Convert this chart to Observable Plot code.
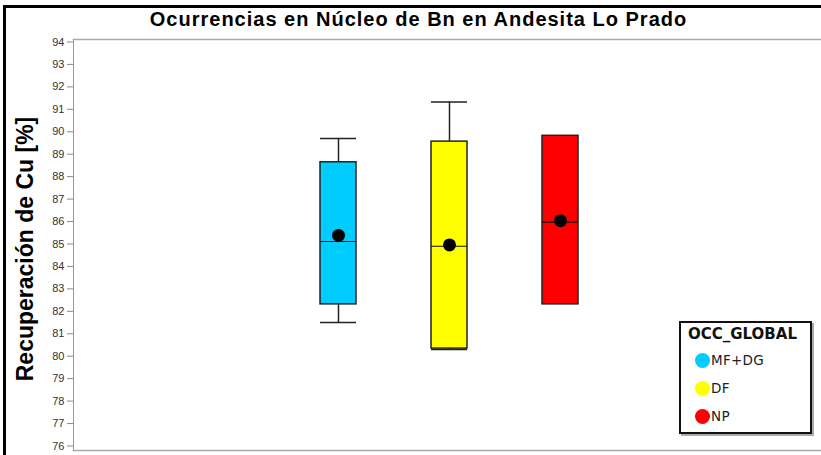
<!DOCTYPE html>
<html><head><meta charset="utf-8">
<script src="https://cdn.jsdelivr.net/npm/d3@7"></script>
<script src="https://cdn.jsdelivr.net/npm/@observablehq/plot@0.6"></script>
<style>
html,body{margin:0;background:#fff;overflow:hidden;}
#wrap{position:relative;width:821px;height:455px;overflow:hidden;font-family:"Liberation Sans",Arial,sans-serif;}
#chart{position:absolute;left:0;top:0;}
#hbar{position:absolute;left:3px;top:5px;width:818px;height:3px;background:#000;}
#vbar{position:absolute;left:3px;top:5px;width:3px;height:450px;background:#000;}
#title{position:absolute;left:8px;width:821px;top:8px;text-align:center;font:bold 20px "Liberation Sans",Arial,sans-serif;letter-spacing:1px;color:#000;white-space:nowrap;}
#legend{position:absolute;left:679px;top:321px;width:129px;height:109px;border:2px solid #111;box-shadow:2px 2px 0 #aaa;background:#fff;font-family:"DejaVu Sans",sans-serif;color:#222;}
#legend .t{position:absolute;left:7px;top:2px;font-weight:bold;font-size:15px;color:#111;}
#legend .i{position:absolute;left:14px;height:16px;font-size:13.5px;line-height:16px;white-space:nowrap;letter-spacing:0.3px;}
#legend .i span.c{display:inline-block;width:15px;height:15px;border-radius:50%;vertical-align:middle;margin-right:1px;position:relative;top:-1px;}
</style>
</head><body>
<div id="wrap">
  <div id="chart"></div>
  <div id="hbar"></div>
  <div id="vbar"></div>
  <div id="title">Ocurrencias en Núcleo de Bn en Andesita Lo Prado</div>
  <div id="legend"><div class="t"></div></div>
</div>
<script>
const categories = ["MF+DG", "DF", "NP"];
const colors = ["#00CCFF", "#FFFF00", "#FF0000"];
const q1 = [82.31, 80.34, 82.31];
const median = [85.11, 84.9, 85.97];
const q3 = [88.64, 89.56, 89.82];
const whiskerLow = [81.5, 80.3, null];
const whiskerHigh = [89.7, 91.33, null];
const mean = [85.38, 84.96, 86.04];
const yTicks = d3.range(76, 95);
const yLabel = "Recuperación de Cu [%]";
const legendTitle = "OCC_GLOBAL";

const data = categories.map((c, i) => ({
  cat: c, q1: q1[i], median: median[i], q3: q3[i],
  lo: whiskerLow[i], hi: whiskerHigh[i], mean: mean[i]
}));
const withWhisk = data.filter(d => d.lo != null);

const chart = Plot.plot({
  width: 821, height: 455,
  marginLeft: 73, marginRight: 0, marginTop: 39, marginBottom: 5,
  style: {fontFamily: "'Liberation Sans', Arial, sans-serif", background: "transparent"},
  x: {type: "band", domain: categories, range: [282, 615], paddingInner: 0.676, paddingOuter: 0.338, axis: null},
  y: {domain: [75.8, 94.11], axis: null},
  color: {domain: categories, range: colors},
  marks: [
    Plot.frame({anchor: "top", stroke: "#aaa", strokeWidth: 1.5}),
    Plot.frame({anchor: "bottom", stroke: "#aaa", strokeWidth: 1.5}),
    Plot.frame({anchor: "left", stroke: "#999"}),
    Plot.axisY({ticks: yTicks, tickSize: 6, tickPadding: 3, fontSize: 11, stroke: "#888", fill: "#333", label: null}),
    Plot.text([yLabel], {frameAnchor: "left", dx: -48, dy: 4, rotate: -90, textAnchor: "middle", lineAnchor: "middle", fontSize: 23, fontWeight: "bold", fill: "#000"}),
    Plot.ruleX(withWhisk, {x: "cat", y1: "q3", y2: "hi", stroke: "#222", strokeWidth: 1.5}),
    Plot.ruleX(withWhisk, {x: "cat", y1: "lo", y2: "q1", stroke: "#222", strokeWidth: 1.5}),
    Plot.tickY(withWhisk, {x: "cat", y: "hi", stroke: "#222", strokeWidth: 1.5}),
    Plot.tickY(withWhisk, {x: "cat", y: "lo", stroke: "#222", strokeWidth: 1.5}),
    Plot.barY(data, {x: "cat", y1: "q1", y2: "q3", fill: "cat", stroke: "#222", strokeWidth: 1.5}),
    Plot.tickY(data, {x: "cat", y: "median", stroke: "#111", strokeWidth: 1.2}),
    Plot.dot(data, {x: "cat", y: "mean", r: 6.5, fill: "#000", stroke: "none"})
  ]
});
document.getElementById("chart").appendChild(chart);

const leg = document.getElementById("legend");
leg.querySelector(".t").textContent = legendTitle;
categories.forEach((c, i) => {
  const d = document.createElement("div");
  d.className = "i";
  d.style.top = (29 + i * 28) + "px";
  d.innerHTML = `<span class="c" style="background:${colors[i]}"></span>${c}`;
  leg.appendChild(d);
});
</script>
</body></html>
